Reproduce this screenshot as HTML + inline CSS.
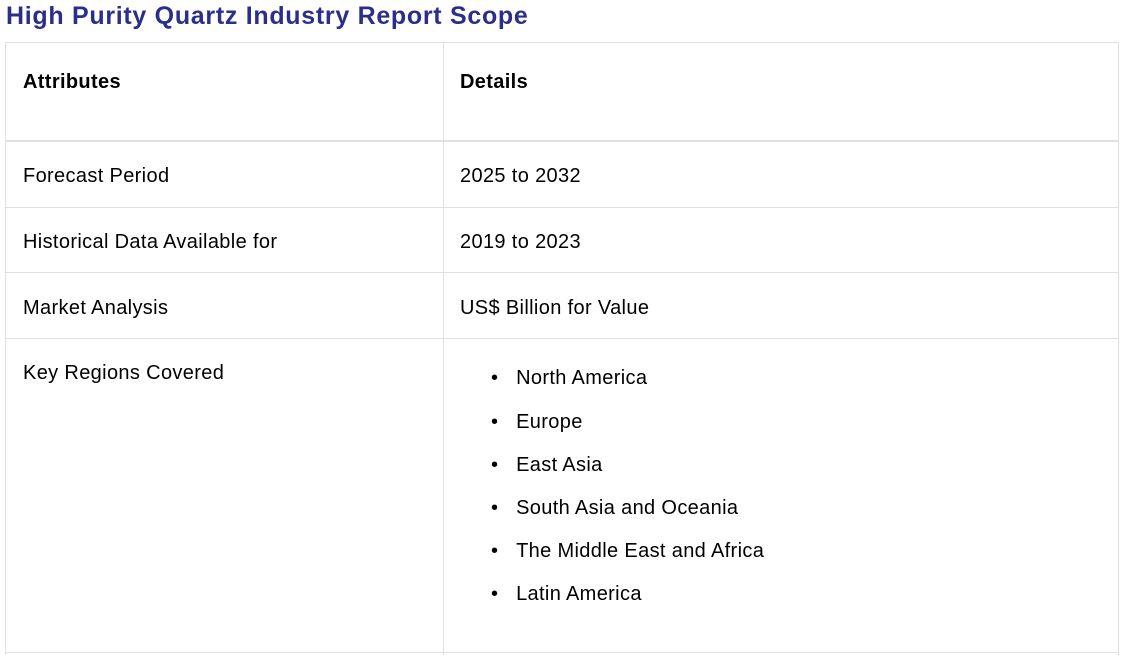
<!DOCTYPE html>
<html><head><meta charset="utf-8"><style>
body{margin:0;width:1128px;height:655px;background:#fff;position:relative;overflow:hidden;font-family:"Liberation Sans",sans-serif;color:#000}
.t{position:absolute;white-space:nowrap;font-size:20px;line-height:24px;letter-spacing:0.35px}
.h{position:absolute;background:#e0e0e0}
</style></head><body>
<div class="t" style="left:6px;top:2px;font-size:25px;line-height:28px;color:#2b2f8a;font-weight:600;letter-spacing:0.7px">High Purity Quartz Industry Report Scope</div>
<div>
<div class="h" style="left:5px;top:42px;width:1114px;height:1px"></div>
<div class="h" style="left:5px;top:140px;width:1114px;height:2px"></div>
<div class="h" style="left:5px;top:207px;width:1114px;height:1px"></div>
<div class="h" style="left:5px;top:272px;width:1114px;height:1px"></div>
<div class="h" style="left:5px;top:338px;width:1114px;height:1px"></div>
<div class="h" style="left:5px;top:652px;width:1114px;height:1px"></div>
<div class="h" style="left:5px;top:42px;width:1px;height:613px"></div>
<div class="h" style="left:443px;top:42px;width:1px;height:613px"></div>
<div class="h" style="left:1118px;top:42px;width:1px;height:613px"></div>
</div>
<div class="t" style="left:23px;top:70px;font-weight:bold">Attributes</div>
<div class="t" style="left:460px;top:70px;font-weight:bold">Details</div>
<div class="t" style="left:23px;top:164px">Forecast Period</div>
<div class="t" style="left:460px;top:164px">2025 to 2032</div>
<div class="t" style="left:23px;top:230px">Historical Data Available for</div>
<div class="t" style="left:460px;top:230px">2019 to 2023</div>
<div class="t" style="left:23px;top:296px">Market Analysis</div>
<div class="t" style="left:460px;top:296px">US$ Billion for Value</div>
<div class="t" style="left:23px;top:361px">Key Regions Covered</div>
<div>
<div class="t" style="left:491px;top:366px">•&nbsp;&nbsp;&nbsp;North America</div>
<div class="t" style="left:491px;top:410px">•&nbsp;&nbsp;&nbsp;Europe</div>
<div class="t" style="left:491px;top:453px">•&nbsp;&nbsp;&nbsp;East Asia</div>
<div class="t" style="left:491px;top:496px">•&nbsp;&nbsp;&nbsp;South Asia and Oceania</div>
<div class="t" style="left:491px;top:539px">•&nbsp;&nbsp;&nbsp;The Middle East and Africa</div>
<div class="t" style="left:491px;top:582px">•&nbsp;&nbsp;&nbsp;Latin America</div>
</div>
</body></html>
